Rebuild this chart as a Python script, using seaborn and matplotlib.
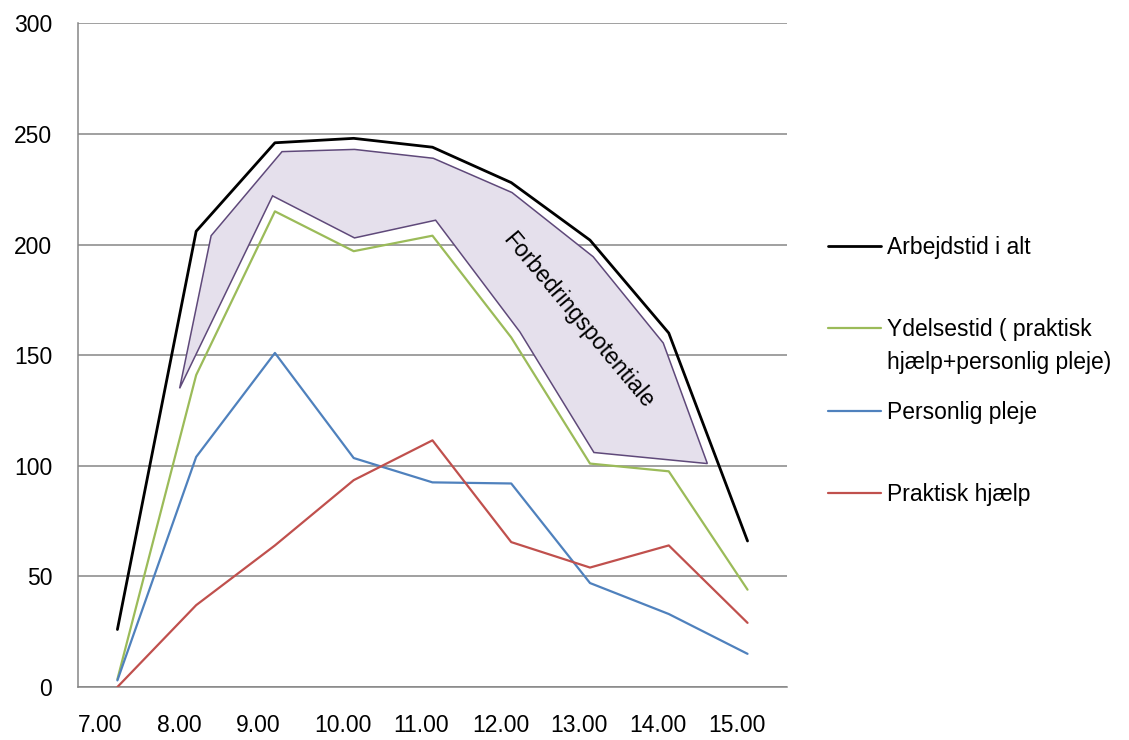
import numpy as np
import pandas as pd
import seaborn as sns
import matplotlib.pyplot as plt
from matplotlib.lines import Line2D

# data (minutes per hour of day)
tider = ['7.00', '8.00', '9.00', '10.00', '11.00', '12.00', '13.00', '14.00', '15.00']
arbejdstid = [26, 206, 246, 248, 244, 228, 202, 160, 66]
ydelsestid = [3.5, 141, 215, 197, 204, 158, 101, 97.5, 44]
personlig_pleje = [3, 104, 151, 103.5, 92.5, 92, 47, 33, 15]
praktisk_hjaelp = [0, 37, 64, 93.5, 111.5, 65.5, 54, 64, 29]

# shaded "Forbedringspotentiale" area (x = time index, y = minutes)
felt_x = [0.79, 1.19, 2.09, 3.01, 4.01, 5.01, 6.04, 6.93, 7.49, 6.05, 5.11, 4.04, 3.01, 1.97]
felt_y = [135, 204, 242, 243, 239, 223.5, 194.5, 155.5, 101, 106, 160.5, 211, 203, 222]

serier = ['Arbejdstid i alt', 'Ydelsestid ( praktisk', 'Personlig pleje', 'Praktisk hjælp']
farver = ['#000000', '#9BBB59', '#4F81BD', '#C0504D']
bredder = [2.0, 1.6, 1.6, 1.6]

df = pd.DataFrame({
    'tid': list(range(len(tider))) * 4,
    'minutter': arbejdstid + ydelsestid + personlig_pleje + praktisk_hjaelp,
    'serie': np.repeat(serier, len(tider)),
})

sns.set_style('white')
plt.rcParams['font.family'] = ['Liberation Sans', 'DejaVu Sans']
plt.rcParams['font.size'] = 16.5
plt.rcParams['text.color'] = 'black'
plt.rcParams['xtick.color'] = 'black'
plt.rcParams['ytick.color'] = 'black'

fig = plt.figure(figsize=(11.29, 7.40), dpi=100)
ax = fig.add_axes([0.0691, 0.0716, 0.6279, 0.8969])

# shaded area
ax.fill(felt_x, felt_y, facecolor='#E5E0EC', edgecolor='#5F497A', linewidth=1.1, zorder=2)
ax.text(5.85, 165.5, 'Forbedringspotentiale', rotation=-50, ha='center', va='center',
        fontsize=16.5, color='black', zorder=3)

for navn, farve, lw in zip(serier, farver, bredder):
    sns.lineplot(data=df[df['serie'] == navn], x='tid', y='minutter', color=farve,
                 linewidth=lw, sort=False, ax=ax, zorder=4)

ax.set_xlim(-0.5, len(tider) - 0.5)
ax.set_ylim(0, 300)
ax.set_yticks(range(0, 301, 50))
ax.set_xticks(np.arange(len(tider)) - 0.5)
ax.set_xticklabels(tider, ha='left')
ax.set_xlabel('')
ax.set_ylabel('')
ax.tick_params(axis='both', length=0, labelsize=16.5, labelcolor='black')
ax.tick_params(axis='y', pad=18.5)
ax.tick_params(axis='x', pad=19.5)
ax.yaxis.grid(True, color='#868686', linewidth=1.1)
ax.set_axisbelow(True)
for s in ['top', 'right']:
    ax.spines[s].set_visible(False)
for s in ['left', 'bottom']:
    ax.spines[s].set_color('#868686')
    ax.spines[s].set_linewidth(1.1)

handles = [Line2D([], [], color=c, linewidth=lw) for c, lw in zip(farver, bredder)]
leg = ax.legend(handles, serier, loc='center left', bbox_to_anchor=(0.7334, 0.4985),
                bbox_transform=fig.transFigure, frameon=False, fontsize=16.5,
                handlelength=2.3, handletextpad=0.28, labelspacing=2.6,
                borderpad=0, borderaxespad=0)
for t in leg.get_texts():
    t.set_color('black')
# second line of the Ydelsestid label (drawn after the legend)
ax.annotate('hjælp+personlig pleje)', xy=(0, 0), xycoords=leg.get_texts()[1],
            xytext=(0, -33), textcoords='offset pixels', ha='left', va='bottom',
            fontsize=16.5, color='black', zorder=6)

plt.savefig('out.png', dpi=100)
